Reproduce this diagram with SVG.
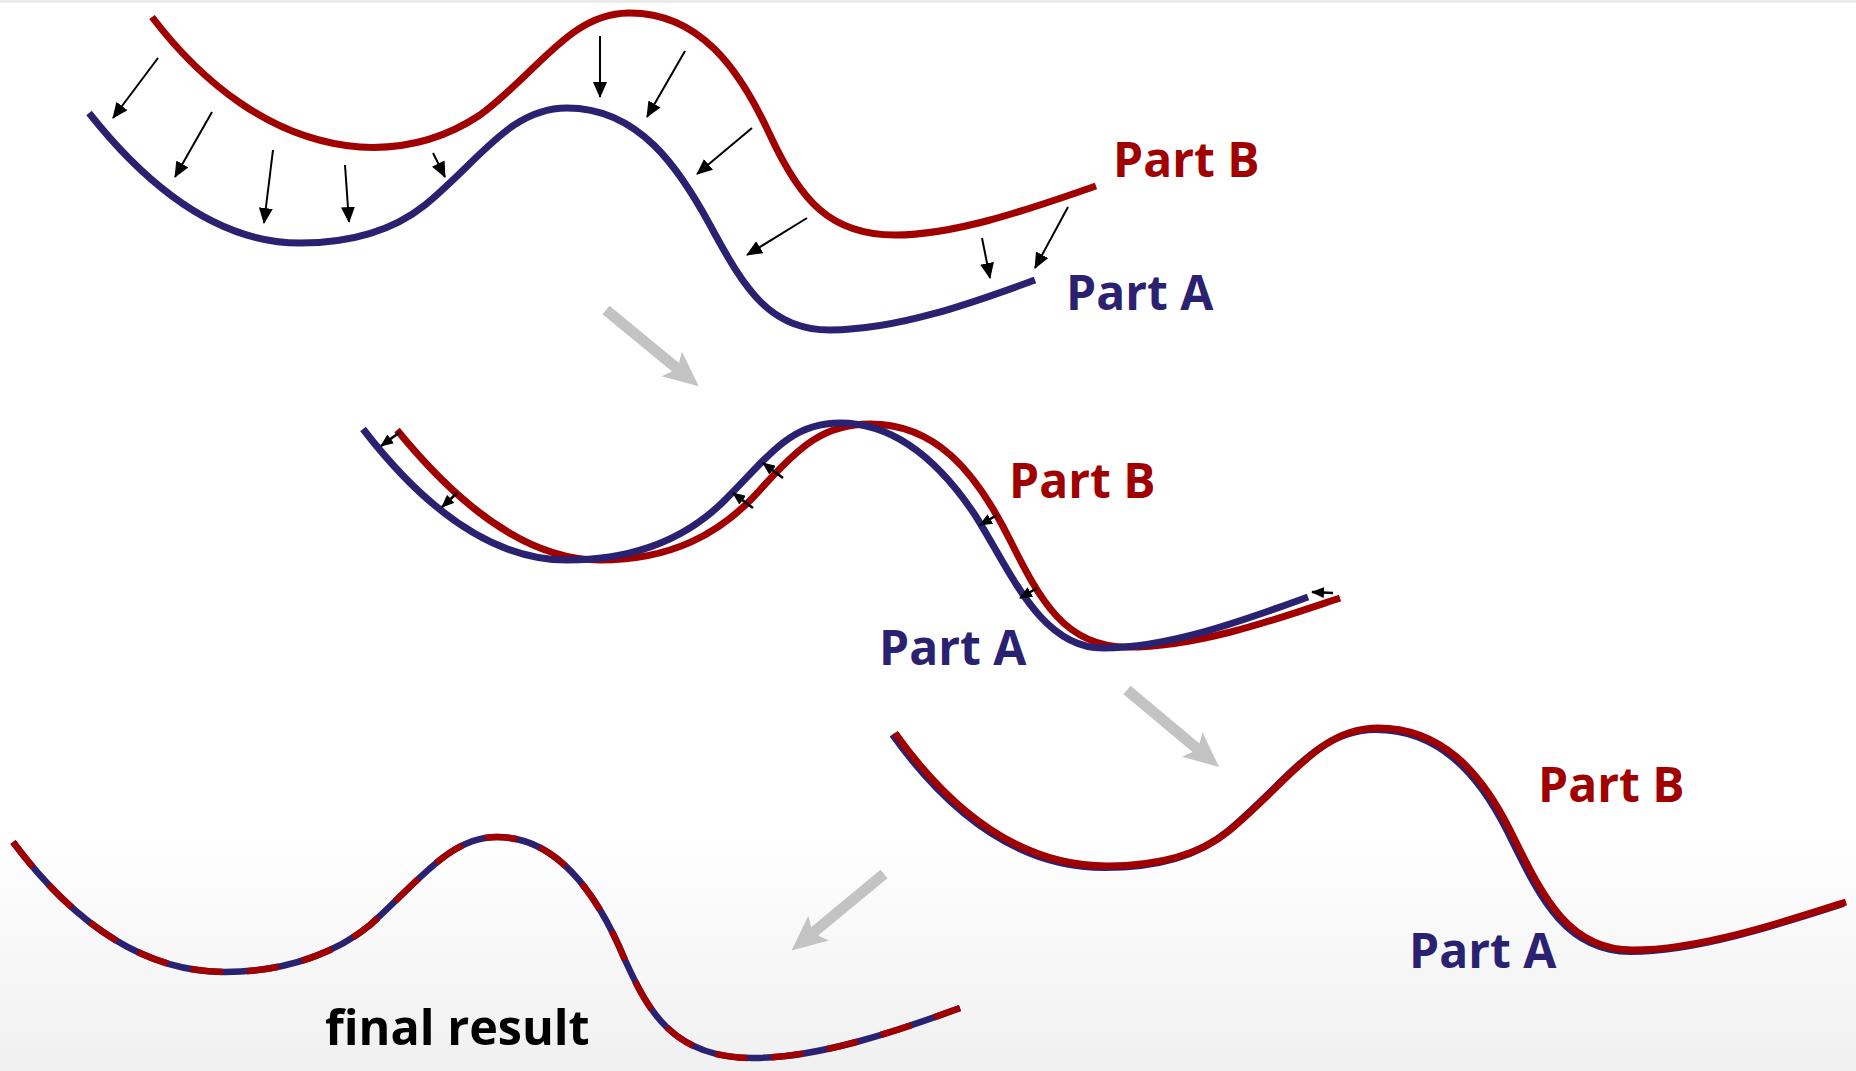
<svg xmlns="http://www.w3.org/2000/svg" width="1856" height="1071" viewBox="0 0 1856 1071">
  <defs>
    <linearGradient id="bg" x1="0" y1="0" x2="0" y2="1071" gradientUnits="userSpaceOnUse">
      <stop offset="0" stop-color="#ffffff"/>
      <stop offset="0.78" stop-color="#ffffff"/>
      <stop offset="1" stop-color="#f0f0f0"/>
    </linearGradient>
    <marker id="tip" viewBox="0 0 16 14" refX="15" refY="7" markerWidth="16" markerHeight="14" markerUnits="userSpaceOnUse" orient="auto">
      <path d="M0,0 L16,7 L0,14 Z" fill="#000"/>
    </marker>
    <marker id="tipSmall" viewBox="0 0 13 11" refX="12" refY="5.5" markerWidth="13" markerHeight="11" markerUnits="userSpaceOnUse" orient="auto">
      <path d="M0,0 L13,5.5 L0,11 Z" fill="#000"/>
    </marker>
    <!-- wide grey step arrow, pointing along +x -->
    <path id="step" d="M0,-5.5 L90,-5.5 L85,-16 L120,0 L85,16 L90,5.5 L0,5.5 Z"/>
    <!-- merged contour shared by both colour layers -->
    <path id="merged" d="M13,842 C60,905 130,972 225,972 C290,972 340,950 370,925 C420,880 450,837 497,837 C560,837 600,900 625,960 C648,1010 672,1058 753,1058 C820,1058 900,1030 960,1008"/>
  </defs>
  <style>
    .a { fill: none; stroke: #2b2171; stroke-width: 7; stroke-linecap: butt; }
    .b { fill: none; stroke: #a00000; stroke-width: 7; stroke-linecap: butt; }
    .fa { fill: none; stroke: #2b2171; stroke-width: 6.5; }
    .fb { fill: none; stroke: #a00000; stroke-width: 6.5; stroke-dasharray: 32 24; }
    .push { stroke: #000; stroke-width: 2; fill: none; marker-end: url(#tip); }
    .nudge { stroke: #000; stroke-width: 2.5; fill: none; marker-end: url(#tipSmall); }
    .lbl { font-family: "Open Sans", "Noto Sans", "DejaVu Sans", sans-serif; font-weight: 700; font-size: 48px; }
    .la { fill: #2b2171; }
    .lb { fill: #a00000; }
    .fin { font-family: "Open Sans", "Lato", "Liberation Sans", sans-serif; font-weight: 700; font-size: 48.5px; fill: #000; }
    .grey { fill: #c3c3c3; }
  </style>

  <rect x="0" y="0" width="1856" height="1071" fill="url(#bg)"/>
  <rect x="0" y="0" width="1856" height="3" fill="#ebebeb"/>

  <!-- Stage 1: separated parts with push arrows -->
  <g id="stage1">
    <path class="b" d="M152,17 C200,80 270,140 360,147 C410,150 450,135 480,115 C540,70 570,14 628,13 C700,12 740,70 770,135 C800,200 830,235 895,235 C960,235 1040,205 1096,186"/>
    <path class="a" d="M89,113 C150,190 220,243 300,243 C360,243 400,225 425,205 C480,160 510,108 567,108 C640,108 680,170 710,225 C745,290 770,330 830,330 C900,330 980,300 1035,280"/>
    <g id="stage1-push">
      <line class="push" x1="158" y1="58" x2="113" y2="118"/>
      <line class="push" x1="212" y1="112" x2="175" y2="177"/>
      <line class="push" x1="273" y1="150" x2="264" y2="223"/>
      <line class="push" x1="345" y1="165" x2="349" y2="222"/>
      <line class="push" x1="433" y1="153" x2="445" y2="177"/>
      <line class="push" x1="600" y1="36" x2="600" y2="97"/>
      <line class="push" x1="685" y1="51" x2="647" y2="117"/>
      <line class="push" x1="752" y1="128" x2="697" y2="174"/>
      <line class="push" x1="807" y1="218" x2="747" y2="255"/>
      <line class="push" x1="982" y1="238" x2="990" y2="278"/>
      <line class="push" x1="1068" y1="207" x2="1035" y2="268"/>
    </g>
    <text class="lbl lb" x="1113" y="177">Part B</text>
    <text class="lbl la" x="1066" y="310">Part A</text>
  </g>

  <!-- Stage 2: parts nearly aligned -->
  <g id="stage2">
    <path class="b" d="M397,430 C450,495 520,560 600,560 C670,560 720,535 760,490 C800,445 825,424 870,424 C935,424 975,470 1010,540 C1040,600 1065,647 1127,647 C1200,647 1280,618 1340,598"/>
    <path class="a" d="M363,429 C410,490 480,560 567,560 C640,560 690,535 725,500 C770,455 790,423 840,423 C900,423 945,470 975,515 C1010,570 1040,648 1103,648 C1170,648 1250,618 1308,597"/>
    <g id="stage2-nudge">
      <line class="nudge" x1="400" y1="432" x2="381" y2="446"/>
      <line class="nudge" x1="457" y1="493" x2="442" y2="507"/>
      <line class="nudge" x1="753" y1="508" x2="733" y2="493"/>
      <line class="nudge" x1="783" y1="478" x2="763" y2="463"/>
      <line class="nudge" x1="997" y1="515" x2="980" y2="525"/>
      <line class="nudge" x1="1037" y1="588" x2="1020" y2="598"/>
      <line class="nudge" x1="1333" y1="593" x2="1312" y2="592"/>
    </g>
    <text class="lbl lb" x="1009" y="498">Part B</text>
    <text class="lbl la" x="879" y="665">Part A</text>
  </g>

  <!-- Stage 3: parts fitted -->
  <g id="stage3">
    <path class="a" transform="translate(-2.5,1.5)" d="M895,733 C950,810 1020,866 1107,866 C1160,866 1200,855 1230,830 C1290,780 1320,728 1378,728 C1440,728 1480,770 1510,830 C1540,890 1565,950 1633,950 C1700,950 1790,920 1846,902"/>
    <path class="b" d="M895,733 C950,810 1020,866 1107,866 C1160,866 1200,855 1230,830 C1290,780 1320,728 1378,728 C1440,728 1480,770 1510,830 C1540,890 1565,950 1633,950 C1700,950 1790,920 1846,902"/>
    <text class="lbl lb" x="1538" y="802">Part B</text>
    <text class="lbl la" x="1409" y="968">Part A</text>
  </g>

  <!-- Final: merged contour, alternating colours -->
  <g id="final">
    <use href="#merged" class="fa"/>
    <use href="#merged" class="fb"/>
    <text class="fin" x="325" y="1045">final result</text>
  </g>

  <!-- step arrows between stages -->
  <g id="connectors" class="grey">
    <use href="#step" transform="translate(606,310) rotate(39.4)"/>
    <use href="#step" transform="translate(1127,690) rotate(39.9)"/>
    <use href="#step" transform="translate(884,874) rotate(140.4)"/>
  </g>
</svg>
